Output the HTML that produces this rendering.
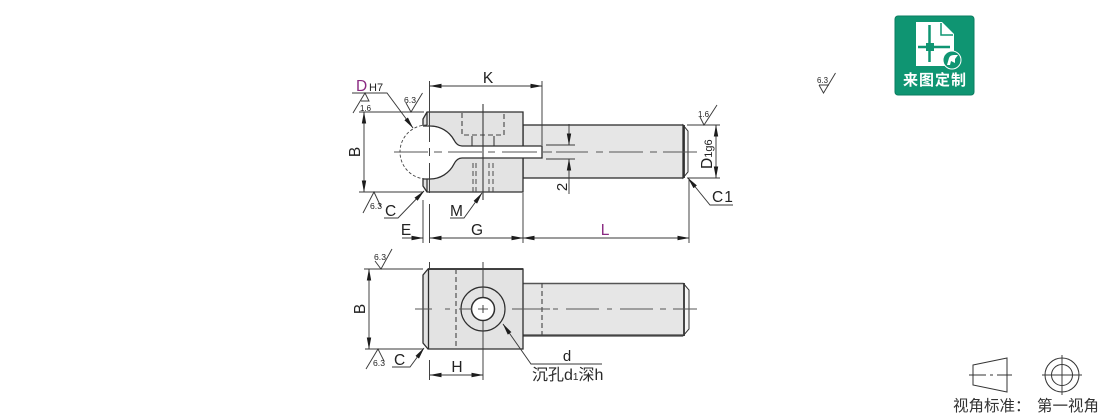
<!DOCTYPE html>
<html><head><meta charset="utf-8"><style>
html,body{margin:0;padding:0;background:#fff}
svg{display:block}
text{font-family:"Liberation Sans","Noto Sans CJK SC",sans-serif;fill:#222}
.o{fill:none;stroke:#2e2e2e;stroke-width:1.3}
.b{fill:none;stroke:#2e2e2e;stroke-width:1.3}
.t{fill:none;stroke:#3a3a3a;stroke-width:.95}
.d{fill:none;stroke:#444;stroke-width:1.1;stroke-dasharray:5 3}
.c{fill:none;stroke:#555;stroke-width:1.1}
</style></head><body>
<svg width="1110" height="416" viewBox="0 0 1110 416" xmlns="http://www.w3.org/2000/svg">
<defs>
<marker id="m" markerWidth="12" markerHeight="6" refX="11.500" refY="3" orient="auto-start-reverse" markerUnits="userSpaceOnUse"><path d="M0 .8 L12 3 L0 5.200z" fill="#1c1c1c"/></marker>
</defs>

<!-- TOP VIEW -->
<rect x="523" y="125" width="160" height="53" fill="#e6e6e6" stroke="#2e2e2e" stroke-width="1.300"/>
<path d="M683 125 L688 131 V172 L683 178 Z" fill="#f6f6f6" stroke="#333" stroke-width="1"/>
<line x1="684" y1="125" x2="684" y2="178" stroke="#333" stroke-width="1.800"/>
<path d="M427 112 H523 V192 H427 L423 187 V120 Z" fill="#e3e3e3"/>
<path d="M423 126 V119 L427 112 H523 V192 H427 L423 186 V178" class="b"/>
<path d="M430 125 A27 27 0 0 1 454 140 Q457 146 462 146 H542 V158 H462 Q457 158 454 164 A27 27 0 0 1 430 179 A27 27 0 0 1 403 152 A27 27 0 0 1 430 125 Z" fill="#fff"/>
<path d="M423 126 H430 A27 27 0 0 1 454 140 Q457 146 462 146 H542 V158 H462 Q457 158 454 164 A27 27 0 0 1 430 179 H423" class="o"/>
<path d="M427 125 A27 27 0 0 0 427 179" fill="none" stroke="#444" stroke-width=".9" stroke-dasharray="3 2"/>
<path d="M427 112 V125 M427 179 V192" stroke="#2e2e2e" stroke-width="1.200" fill="none"/>
<path d="M462 113 V135 H504 V113" class="d"/>
<path d="M472 146 V136 M494 146 V136" class="o" style="stroke-width:1"/>
<path d="M473 163 V192 M476 163 V192 M489 163 V192 M493 163 V192" class="d" style="stroke-width:.95"/>
<line x1="483" y1="104" x2="483" y2="200" class="t" style="stroke-width:1.100"/>
<path class="c" d="M394 152H428 M434 152H442 M448 152H482 M488 152H495 M502 152H537 M543 152H552 M556 152H588 M596 152H603 M609 152H643 M650 152H657 M663 152H697"/>
<path class="t" d="M429.500 81 V142 M429.500 148 V156 M429.500 163 V193 M429.500 204 V243"/>
<line x1="423" y1="200" x2="423" y2="243" class="t"/>
<line x1="523" y1="193" x2="523" y2="243" class="t"/>
<line x1="689" y1="179" x2="689" y2="243" class="t"/>
<line x1="542" y1="81" x2="542" y2="145" class="t"/>
<!-- K -->
<line x1="430" y1="86" x2="542" y2="86" class="t" marker-start="url(#m)" marker-end="url(#m)"/>
<text x="488" y="83" font-size="15.500" text-anchor="middle">K</text>
<!-- DH7 -->
<text x="356" y="91" font-size="15.500" style="fill:#8a2a82">D</text>
<text x="369" y="91" font-size="11">H7</text>
<path d="M352 93 H387 L413 128" class="t" marker-end="url(#m)"/>
<path d="M353 113 L365 93 L369 101 H361" class="t"/>
<text x="360" y="111" font-size="8.500" textLength="11" lengthAdjust="spacingAndGlyphs">1.6</text>
<line x1="359" y1="112" x2="424" y2="112" class="t"/>
<path d="M406 103 L411 112 L422.500 93" class="t"/>
<text x="404" y="103" font-size="8.500" textLength="12" lengthAdjust="spacingAndGlyphs">6.3</text>
<!-- B -->
<line x1="364" y1="112" x2="364" y2="192" class="t" marker-start="url(#m)" marker-end="url(#m)"/>
<text x="360" y="152" font-size="15.500" text-anchor="middle" transform="rotate(-90 360 152)">B</text>
<line x1="359" y1="192" x2="423" y2="192" class="t"/>
<path d="M363 213 L374 192 L381 207" class="t"/>
<text x="370" y="209" font-size="8.500" textLength="12" lengthAdjust="spacingAndGlyphs">6.3</text>
<!-- C -->
<path d="M384 218 H398 L424 191" class="t" marker-end="url(#m)"/>
<text x="385" y="216" font-size="15.500">C</text>
<!-- M -->
<path d="M450 218 H464 L482 193" class="t" marker-end="url(#m)"/>
<text x="450" y="216" font-size="15.500">M</text>
<!-- E G L -->
<text x="406" y="235" font-size="15.500" text-anchor="middle">E</text>
<line x1="402" y1="238" x2="423" y2="238" class="t" marker-end="url(#m)"/>
<line x1="430" y1="238" x2="523" y2="238" class="t" marker-start="url(#m)" marker-end="url(#m)"/>
<text x="477" y="235" font-size="15.500" text-anchor="middle">G</text>
<line x1="523" y1="238" x2="689" y2="238" class="t" marker-start="url(#m)" marker-end="url(#m)"/>
<text x="605" y="235" font-size="15.500" text-anchor="middle" style="fill:#8a2a82">L</text>
<!-- 2 -->
<path d="M546 145 H575 M546 159 H575" class="t"/>
<line x1="569" y1="124" x2="569" y2="145" class="t" marker-end="url(#m)"/>
<line x1="569" y1="194" x2="569" y2="159" class="t" marker-end="url(#m)"/>
<text x="567" y="187" font-size="15" text-anchor="middle" transform="rotate(-90 567 187)">2</text>
<!-- D1g6 -->
<path d="M687 125 H720 M687 178 H720" class="t"/>
<line x1="716" y1="125" x2="716" y2="178" class="t" marker-start="url(#m)" marker-end="url(#m)"/>
<text transform="translate(712 169) rotate(-90)" font-size="15.500">D<tspan font-size="11">1g6</tspan></text>
<path d="M700 117 L704 125 L717 105" class="t"/>
<text x="698" y="117" font-size="8.500" textLength="11" lengthAdjust="spacingAndGlyphs">1.6</text>
<!-- C1 -->
<path d="M733 205 H710 L688 178" class="t" marker-end="url(#m)"/>
<text x="712" y="202" font-size="15.500" letter-spacing="1">C1</text>

<!-- BOTTOM VIEW -->
<rect x="523" y="283" width="160" height="53" fill="#e6e6e6"/>
<path d="M523 283.500 H683" fill="none" stroke="#555" stroke-width="1.600"/>
<path d="M523 335.500 H683" fill="none" stroke="#444" stroke-width="2.200"/>
<path d="M683 283 L689 290 V329 L683 336" fill="#f6f6f6" stroke="#333" stroke-width="1"/>
<line x1="684" y1="283" x2="684" y2="336" stroke="#333" stroke-width="1.800"/>
<path d="M428 269 H523 V349 H428 L423 343 V275 Z" fill="#e3e3e3"/>
<path d="M423 275 L428 269 H523 V349 H428 L423 343 Z" class="o"/>
<line x1="428.500" y1="269" x2="428.500" y2="349" stroke="#2e2e2e" stroke-width="1.300"/>
<line x1="428" y1="269" x2="523" y2="269" stroke="#2e2e2e" stroke-width="1.700"/>
<line x1="456" y1="269" x2="456" y2="349" class="d"/>
<line x1="542" y1="283" x2="542" y2="336" class="d"/>
<circle cx="483" cy="309" r="22" fill="none" stroke="#2e2e2e" stroke-width="1.200"/>
<circle cx="483" cy="309" r="11.500" fill="#fff" stroke="#2e2e2e" stroke-width="1.500"/>
<path class="c" d="M415 309H432 M445 309H450 M459 309H472 M478 309H488 M512 309H550 M553 309H558 M566 309H599 M607 309H612 M620 309H653 M660 309H666 M673 309H697"/>
<path class="t" d="M483 262 V297 M483 305 V313 M483 321 V380 M429.500 262 V269 M429.500 360 V380"/>
<!-- B -->
<path d="M364 269 H423 M365 349 H423" class="t"/>
<line x1="369" y1="269" x2="369" y2="349" class="t" marker-start="url(#m)" marker-end="url(#m)"/>
<text x="365" y="309" font-size="15.500" text-anchor="middle" transform="rotate(-90 365 309)">B</text>
<path d="M375 261 L381 269 L392 249" class="t"/>
<text x="374" y="260" font-size="8.500" textLength="12" lengthAdjust="spacingAndGlyphs">6.3</text>
<path d="M366 369 L378 349 L384 361" class="t"/>
<text x="373" y="366" font-size="8.500" textLength="12" lengthAdjust="spacingAndGlyphs">6.3</text>
<!-- C -->
<path d="M392 367 H410 L424 348" class="t" marker-end="url(#m)"/>
<text x="394" y="365" font-size="15.500">C</text>
<!-- H -->
<line x1="430" y1="375" x2="483" y2="375" class="t" marker-start="url(#m)" marker-end="url(#m)"/>
<text x="457" y="372" font-size="15.500" text-anchor="middle">H</text>
<!-- d -->
<path d="M602 364 H531 L503 324" class="t" marker-end="url(#m)"/>
<text x="567" y="361" font-size="15" text-anchor="middle">d</text>
<text x="532" y="380" font-size="16" style="fill:#2a2a2a">沉孔d<tspan font-size="10">1</tspan>深h</text>

<!-- stray symbol -->
<path d="M819 85 H829 M819 85 L823.500 93 L835.500 73" class="t"/>
<text x="817" y="83" font-size="8.500" textLength="11" lengthAdjust="spacingAndGlyphs">6.3</text>

<!-- badge -->
<rect x="895" y="16" width="79" height="79" rx="3" fill="#0f9572" stroke="#0a7d60"/>
<path d="M916 22 H942 L954 34 V66 H916 Z" fill="#fff"/>
<path d="M941 23 V35 H953" fill="none" stroke="#0f9572" stroke-width="1.500"/>
<path d="M929.500 25 V62 M918 47 H950" stroke="#0f9572" stroke-width="2.500" fill="none"/>
<rect x="926" y="43" width="8" height="8" fill="#0f9572"/>
<circle cx="952" cy="60" r="9" fill="#0f9572" stroke="#fff" stroke-width="1"/>
<path d="M947 65 L949 58 Q950 55 954 55 H958 L955 59 V63 L951 61 L950 65 Z" fill="#fff"/>
<text x="934.500" y="85" font-size="15" font-weight="700" text-anchor="middle" style="fill:#fff;font-family:'Noto Sans CJK SC',sans-serif" textLength="63">来图定制</text>

<!-- view symbols -->
<path d="M973 365 L1007 358 V392 L973 385 Z" class="t" style="stroke:#333;stroke-width:1"/>
<path class="c" d="M969 375H986 M990 375H993 M997 375H1012" style="stroke:#333"/>
<circle cx="1062" cy="375" r="17" class="t" style="stroke:#333;stroke-width:1"/>
<circle cx="1062" cy="375" r="10.500" class="t" style="stroke:#333;stroke-width:1"/>
<path d="M1062 355 V395 M1042 375 H1082" class="t"/>
<text x="953" y="411" font-size="15.500" style="fill:#333">视角标准：</text>
<text x="1037" y="411" font-size="15.500" style="fill:#333">第一视角</text>
</svg>
</body></html>
